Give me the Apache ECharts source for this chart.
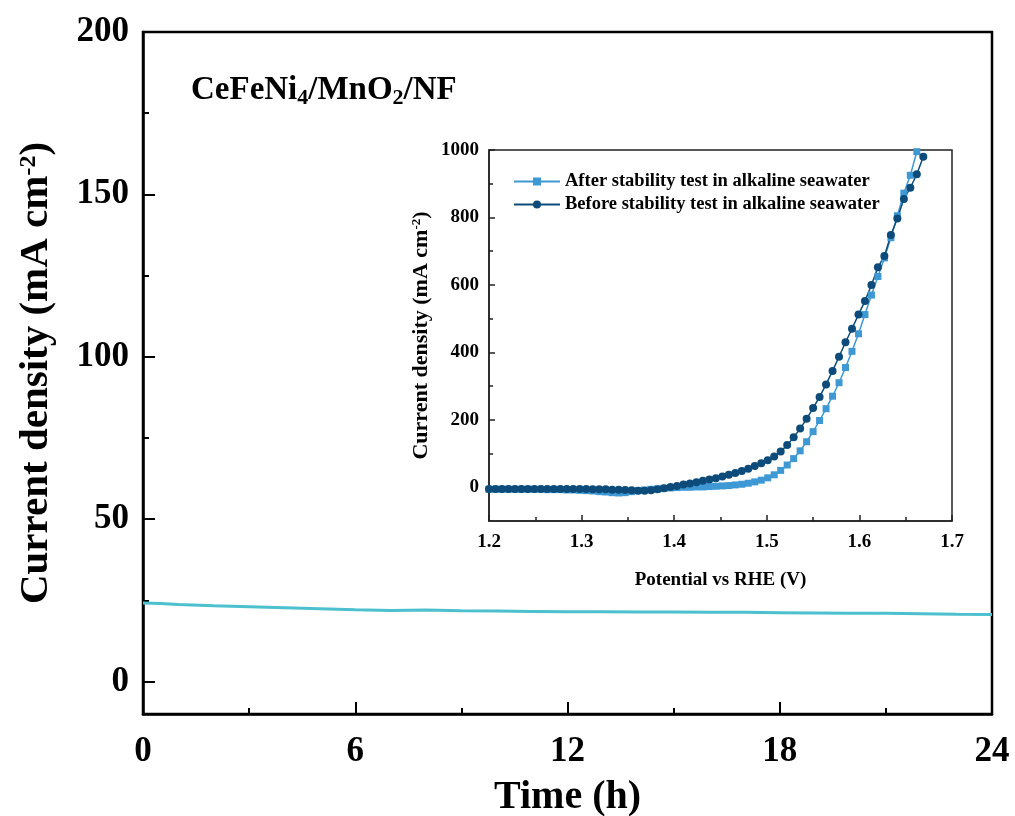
<!DOCTYPE html>
<html>
<head>
<meta charset="utf-8" />
<script src="https://cdn.jsdelivr.net/npm/echarts@6/dist/echarts.min.js"></script>
<title>CeFeNi4/MnO2/NF stability</title>
</head>
<body style="margin:0;background:#fff">
<div id="main" style="width:1015px;height:816px"></div>
<script type="text/javascript">
// chronoamperometry, 24 h
var timeH = [0, 0.5, 1, 2, 3, 4, 5, 6, 7, 8, 9, 10, 11, 12, 13, 14, 15, 16, 17, 18, 19, 20, 21, 22, 23, 24];
var currentMain = [24.2, 24.0, 23.7, 23.3, 23.0, 22.7, 22.4, 22.1, 21.9, 22.0, 21.8, 21.7, 21.6, 21.5, 21.5, 21.4, 21.4, 21.3, 21.3, 21.2, 21.1, 21.0, 21.0, 20.9, 20.7, 20.6];

// inset LSV curves
var potential = [1.200, 1.207, 1.214, 1.221, 1.228, 1.235, 1.242, 1.249, 1.256, 1.263,
	1.270, 1.277, 1.284, 1.291, 1.298, 1.305, 1.312, 1.319, 1.326, 1.333,
	1.340, 1.347, 1.354, 1.361, 1.368, 1.375, 1.382, 1.389, 1.396, 1.403,
	1.410, 1.417, 1.424, 1.431, 1.438, 1.445, 1.452, 1.459, 1.466, 1.473,
	1.480, 1.487, 1.494, 1.501, 1.508, 1.515, 1.522, 1.529, 1.536, 1.543,
	1.550, 1.557, 1.564, 1.571, 1.578, 1.585, 1.592, 1.599, 1.606, 1.613,
	1.620, 1.627, 1.634, 1.641, 1.648, 1.655, 1.662, 1.669];
var before = [-5, -5, -5, -5, -5, -5, -5, -5, -5, -5,
	-5, -5, -5, -5, -5, -5, -6, -6, -6, -7,
	-7, -8, -9, -10, -10, -9, -6, -3, 1, 4,
	8, 11, 15, 19, 23, 27, 32, 37, 42, 48,
	55, 63, 71, 80, 91, 106, 125, 148, 174, 203,
	235, 268, 305, 345, 387, 430, 470, 512, 552, 600,
	652, 686, 748, 797, 855, 888, 928, 980];
var after = [-6, -6, -6, -6, -6, -6, -6, -6, -6, -7,
	-7, -7, -8, -8, -9, -10, -11, -13, -14, -16,
	-17, -16, -13, -10, -8, -6, -5, -3, -2, -1,
	0, 0, 1, 1, 2, 3, 4, 5, 7, 9,
	12, 16, 21, 28, 37, 50, 66, 85, 108, 135,
	165, 198, 233, 270, 310, 355, 403, 455, 512, 570,
	625, 680, 740, 805, 872, 925, 995, null];

var mainYTicks = [0, 50, 100, 150, 200];
var mainYMinor = [25, 75, 125, 175];
var insetYTicks = [0, 200, 400, 600, 800, 1000];
var insetYMinor = [100, 300, 500, 700, 900];

function pairs(xs, ys) {
	var out = [];
	for (var i = 0; i < xs.length; i++) {
		if (ys[i] !== null) out.push([xs[i], ys[i]]);
	}
	return out;
}

var FONT = 'Liberation Serif';
var SUP = {fontSize: 24, fontWeight: 'bold', fontFamily: FONT, padding: [0, 0, 16, 0]};

var myChart = echarts.init(document.getElementById('main'));
myChart.setOption({
	animation: false,
	textStyle: {fontFamily: FONT},
	title: {
		text: 'CeFeNi{sub|4}/MnO{sub|2}/NF',
		left: 186, top: 66,
		textStyle: {
			fontSize: 33, fontWeight: 'bold', fontFamily: FONT, color: '#000',
			rich: {sub: {fontSize: 22, fontWeight: 'bold', fontFamily: FONT, padding: [16, 0, 0, 0]}}
		}
	},
	legend: {
		data: ['After stability test in alkaline seawater', 'Before stability test in alkaline seawater'],
		orient: 'vertical',
		left: 508, top: 167,
		itemWidth: 46, itemHeight: 10, itemGap: 4,
		textStyle: {fontSize: 18.5, fontWeight: 'bold', fontFamily: FONT, color: '#000'}
	},
	grid: [
		{left: 143, right: 23, top: 32, bottom: 102, outerBoundsMode: 'none', containLabel: false,
			show: true, borderColor: '#000', borderWidth: 2.5},
		{left: 489, right: 63, top: 150, bottom: 295, outerBoundsMode: 'none', containLabel: false,
			show: true, borderColor: '#222', borderWidth: 1.5, backgroundColor: '#fff'}
	],
	xAxis: [
		{
			gridIndex: 0, type: 'value', min: 0, max: 24, interval: 6,
			name: 'Time (h)', nameLocation: 'middle', nameGap: 64,
			nameTextStyle: {fontSize: 40, fontWeight: 'bold', fontFamily: FONT, color: '#000'},
			axisLine: {onZero: false, lineStyle: {color: '#000', width: 2.5}},
			axisTick: {inside: true, length: 12, lineStyle: {width: 2}},
			minorTick: {show: true, splitNumber: 2, length: 6, lineStyle: {color: '#000', width: 2}},
			axisLabel: {fontSize: 35, fontWeight: 'bold', color: '#000', margin: 20},
			splitLine: {show: false}
		},
		{
			gridIndex: 1, type: 'value', min: 1.2, max: 1.7, interval: 0.1,
			name: 'Potential vs RHE (V)', nameLocation: 'middle', nameGap: 50,
			nameTextStyle: {fontSize: 19, fontWeight: 'bold', fontFamily: FONT, color: '#000'},
			axisLine: {onZero: false, lineStyle: {color: '#222', width: 1.5}},
			axisTick: {inside: true, length: 6, lineStyle: {width: 1.5}},
			minorTick: {show: true, splitNumber: 2, length: 4, lineStyle: {color: '#222', width: 1.5}},
			axisLabel: {fontSize: 19, fontWeight: 'bold', color: '#000', margin: 12,
				formatter: function (v) { return v.toFixed(1); }},
			splitLine: {show: false}
		}
	],
	yAxis: [
		{
			gridIndex: 0, type: 'value', min: -10, max: 200, position: 'left',
			name: 'Current density (mA cm{sup|-2})', nameLocation: 'middle', nameGap: 86,
			nameTextStyle: {fontSize: 41, fontWeight: 'bold', fontFamily: FONT, color: '#000', rich: {sup: SUP}},
			axisLine: {show: true, onZero: false, lineStyle: {color: '#000', width: 2.5}},
			axisTick: {inside: true, length: 12, customValues: mainYTicks, lineStyle: {width: 2}},
			axisLabel: {fontSize: 35, fontWeight: 'bold', color: '#000', margin: 14, customValues: mainYTicks},
			splitLine: {show: false}
		},
		{
			gridIndex: 0, type: 'value', min: -10, max: 200, position: 'left',
			axisLine: {show: false, onZero: false},
			axisTick: {inside: true, length: 6, customValues: mainYMinor, lineStyle: {color: '#000', width: 2}},
			axisLabel: {show: false},
			splitLine: {show: false}
		},
		{
			gridIndex: 1, type: 'value', min: -100, max: 1000, position: 'left',
			name: 'Current density (mA cm{sup|-2})', nameLocation: 'middle', nameGap: 56,
			nameTextStyle: {fontSize: 22, fontWeight: 'bold', fontFamily: FONT, color: '#000',
				rich: {sup: {fontSize: 13, fontWeight: 'bold', fontFamily: FONT, padding: [0, 0, 10, 0]}}},
			axisLine: {show: true, onZero: false, lineStyle: {color: '#222', width: 1.5}},
			axisTick: {inside: true, length: 6, customValues: insetYTicks, lineStyle: {width: 1.5}},
			axisLabel: {fontSize: 19, fontWeight: 'bold', color: '#000', margin: 10, customValues: insetYTicks,
				formatter: function (v) { return String(v); }},
			splitLine: {show: false}
		},
		{
			gridIndex: 1, type: 'value', min: -100, max: 1000, position: 'left',
			axisLine: {show: false, onZero: false},
			axisTick: {inside: true, length: 4, customValues: insetYMinor, lineStyle: {color: '#222', width: 1.5}},
			axisLabel: {show: false},
			splitLine: {show: false}
		}
	],
	series: [
		{
			name: 'i-t', type: 'line', xAxisIndex: 0, yAxisIndex: 0,
			showSymbol: false, data: pairs(timeH, currentMain),
			lineStyle: {color: '#4cc0ce', width: 3}, itemStyle: {color: '#4cc0ce'}
		},
		{
			name: 'After stability test in alkaline seawater', type: 'line', xAxisIndex: 1, yAxisIndex: 2,
			symbol: 'rect', symbolSize: 7, data: pairs(potential, after),
			lineStyle: {color: '#3e98d4', width: 1.5}, itemStyle: {color: '#3e98d4'}
		},
		{
			name: 'Before stability test in alkaline seawater', type: 'line', xAxisIndex: 1, yAxisIndex: 2,
			symbol: 'circle', symbolSize: 8, data: pairs(potential, before),
			lineStyle: {color: '#0d4c7a', width: 1.5}, itemStyle: {color: '#0d4c7a'}
		}
	]
});
</script>
</body>
</html>
